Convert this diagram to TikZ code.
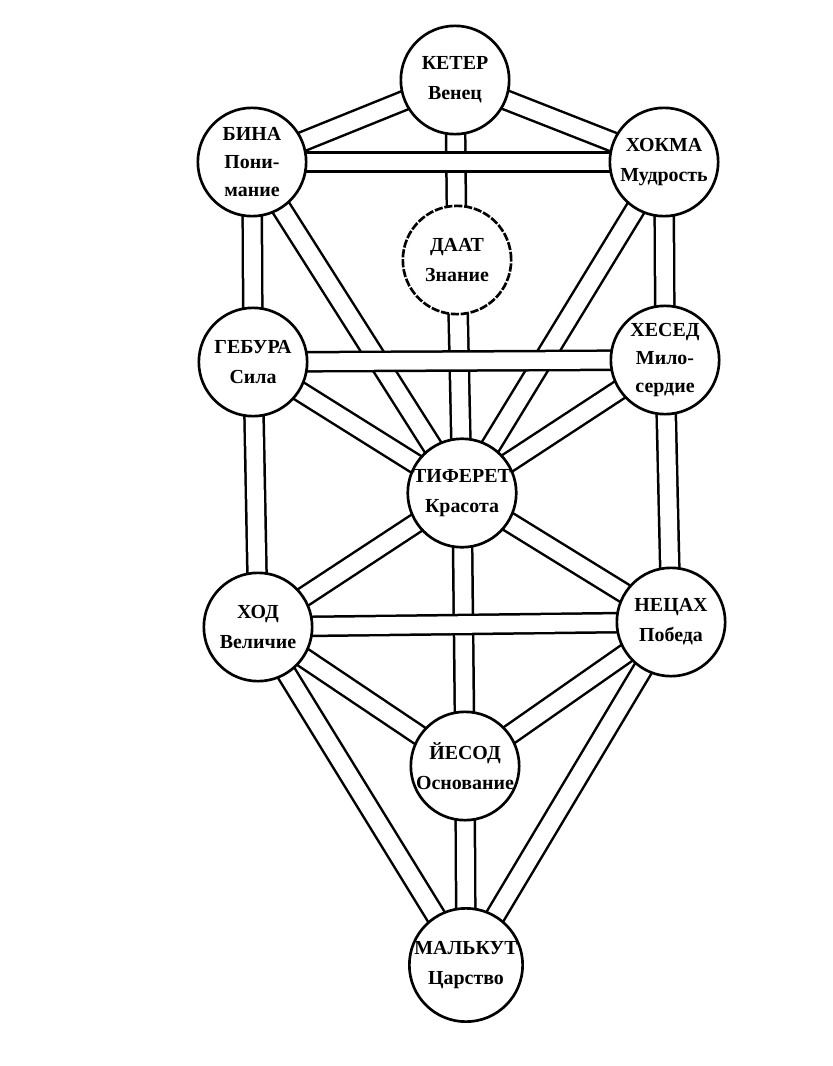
\documentclass[tikz,border=0pt]{standalone}
\usepackage{fontspec}
\setmainfont{Liberation Serif}
\usepackage{tikz}
\usetikzlibrary{backgrounds}
\tikzset{
    sefira/.style = {circle, draw=black, fill=white, line width=0.08cm,
        minimum size=3.25cm, inner sep=0pt, align=center,
        font=\bfseries\fontsize{17}{25.5}\selectfont},
    sefira3/.style = {sefira, font=\bfseries\fontsize{17}{23.5}\selectfont},
    hidden/.style = {sefira, dash pattern=on 7pt off 1.5pt},
    channel/.style = {draw=black, line width=0.075cm, double=white,
        double distance=0.5cm},
}

\begin{document}
\begin{tikzpicture}[x=0.03cm, y=-0.03cm]
    \useasboundingbox (0,0) rectangle (832,1066);
    \node (keter)   [sefira]  at (455,80)  {КЕТЕР\\Венец};
    \node (bina)    [sefira3] at (252,162) {БИНА\\Пони-\\мание};
    \node (hokma)   [sefira]  at (664,162) {ХОКМА\\Мудрость};
    \node (daat)    [hidden]  at (457,260) {ДААТ\\Знание};
    \node (gebura)  [sefira]  at (253,362) {ГЕБУРА\\Сила};
    \node (hesed)   [sefira3] at (665,360) {ХЕСЕД\\Мило-\\сердие};
    \node (tiferet) [sefira]  at (462,493) {ТИФЕРЕТ\\Красота};
    \node (hod)     [sefira]  at (258,627) {ХОД\\Величие};
    \node (netzah)  [sefira]  at (671,622) {НЕЦАХ\\Победа};
    \node (yesod)   [sefira]  at (465,766) {ЙЕСОД\\Основание};
    \node (malkut)  [sefira]  at (466,965) {МАЛЬКУТ\\Царство};
    \begin{pgfonlayer}{background}
        % paths under the horizontal ones
        \foreach \a/\b in {keter/bina, keter/hokma, keter/daat, daat/tiferet,
            bina/gebura, bina/tiferet, hokma/hesed, hokma/tiferet,
            gebura/tiferet, hesed/tiferet, gebura/hod, hesed/netzah,
            tiferet/hod, tiferet/netzah, tiferet/yesod, hod/yesod,
            netzah/yesod, hod/malkut, netzah/malkut, yesod/malkut}
            \draw[channel] (\a.center) -- (\b.center);
        % horizontal paths
        \foreach \a/\b in {bina/hokma, gebura/hesed, hod/netzah}
            \draw[channel] (\a.center) -- (\b.center);
    \end{pgfonlayer}
\end{tikzpicture}
\end{document}
